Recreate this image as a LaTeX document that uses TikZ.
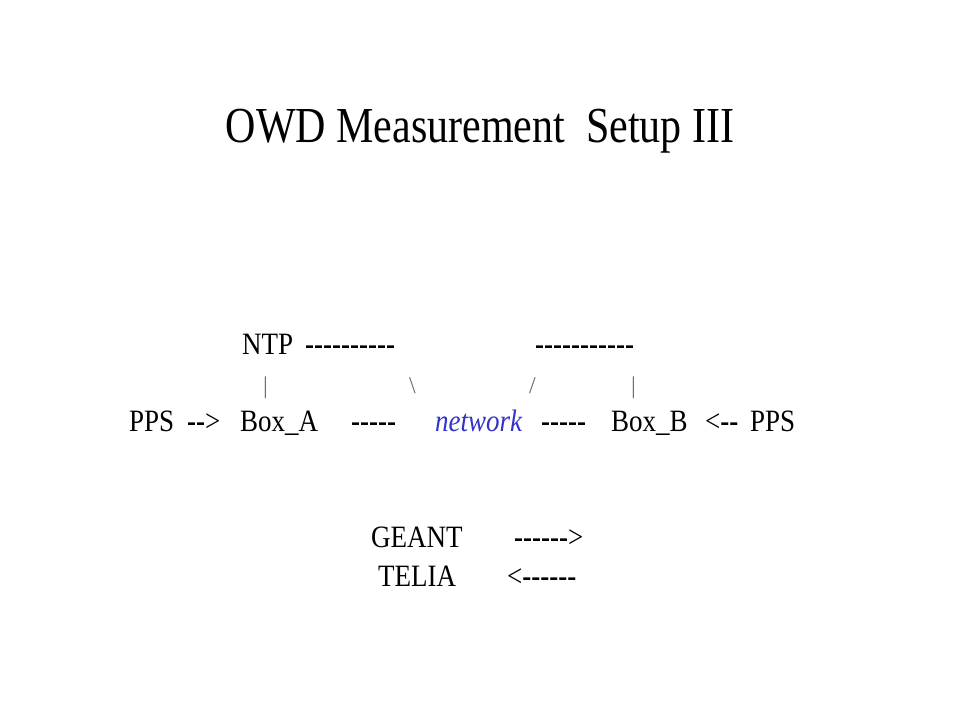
\documentclass[tikz,border=0pt]{standalone}
\usepackage{fontspec}
\setmainfont{Liberation Serif}[Ligatures=TeXOff]
\definecolor{netblue}{RGB}{51,51,204}
\definecolor{bargray}{RGB}{110,110,110}
\newcommand{\vs}[1]{\scalebox{1}[1.15]{#1}}
\newcommand{\vt}[1]{\scalebox{1}[1.2]{#1}}
\newcommand{\dsh}[1]{\scalebox{1}[1.15]{\bfseries #1}}
\tikzset{
  ttl/.style={anchor=base, inner sep=0pt, font=\fontsize{42}{50}\selectfont},
  txt/.style={anchor=base west, inner sep=0pt, font=\fontsize{27}{32}\selectfont},
  bar/.style={txt, text=bargray, font=\fontsize{24}{28}\selectfont},
}
\begin{document}
\begin{tikzpicture}[x=1pt,y=-1pt]
\useasboundingbox[fill=white] (0,0) rectangle (960,720);
\node[ttl] (title) at (480,142) {\vt{OWD Measurement\ \ Setup III}};
% line 1
\node[txt] (ntp) at (242,354) {\vs{NTP}};
\node[txt] (d1) at (305,354) {\dsh{----------}};
\node[txt] (d2) at (535,354) {\dsh{-----------}};
% line 2
\node[bar] (b1) at (263,393) {|};
\node[bar] (b2) at (409,393) {\textbackslash};
\node[bar] (b3) at (529,393) {/};
\node[bar] (b4) at (631,393) {|};
% line 3
\node[txt] (pps1) at (129,431) {\vs{PPS}};
\node[txt] (ar1) at (187,431) {\dsh{--}\vs{>}};
\node[txt] (boxa) at (240,431) {\vs{Box\_A}};
\node[txt] (d3) at (351,431) {\dsh{-----}};
\node[txt, text=netblue] (net) at (435,431) {\vs{\itshape network}};
\node[txt] (d4) at (541,431) {\dsh{-----}};
\node[txt] (boxb) at (611,431) {\vs{Box\_B}};
\node[txt] (ar2) at (705,431) {\vs{<}\dsh{--}};
\node[txt] (pps2) at (750,431) {\vs{PPS}};
% bottom
\node[txt] (geant) at (371,547) {\vs{GEANT}};
\node[txt] (ar3) at (514,547) {\dsh{------}\vs{>}};
\node[txt] (telia) at (378,586) {\vs{TELIA}};
\node[txt] (ar4) at (507,586) {\vs{<}\dsh{------}};
\end{tikzpicture}
\end{document}
